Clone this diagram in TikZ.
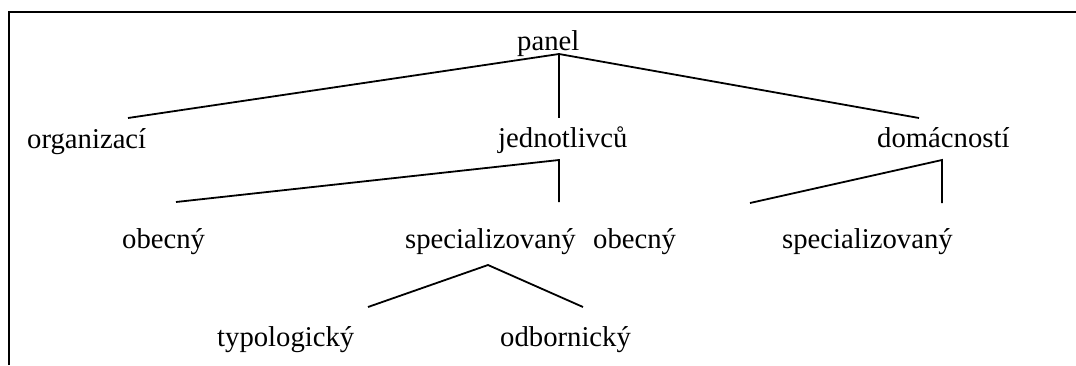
\documentclass[tikz,border=0pt]{standalone}
\usepackage{fontspec}
\setmainfont{Liberation Serif}
\begin{document}
\begin{tikzpicture}[x=1pt,y=-1pt,
  lbl/.style={anchor=base west,inner sep=0pt,font=\fontsize{28.7}{34}\selectfont},
  branch/.style={line width=1.8pt},
  frameline/.style={line width=2pt}]
\useasboundingbox (0,0) rectangle (1076,365);
% open frame: top and left edges only
\coordinate (fl) at (8.5,365);
\coordinate (fc) at (8.5,12);
\coordinate (fr) at (1076,12);
\draw[frameline] (fl) -- (fc) -- (fr);

% labels
\node[lbl] (panel) at (517,50) {panel};
\node[lbl] (org) at (27,148) {organizací};
\node[lbl] (jed) at (498,147) {jednotlivců};
\node[lbl] (dom) at (877,147) {domácností};
\node[lbl] (obA) at (122,248) {obecný};
\node[lbl] (spA) at (405,248) {specializovaný};
\node[lbl] (obB) at (593,248) {obecný};
\node[lbl] (spB) at (782,248) {specializovaný};
\node[lbl] (typ) at (217,346) {typologický};
\node[lbl] (odb) at (500,346) {odbornický};

% branch points
\coordinate (pHub) at (559,54);
\coordinate (orgTop) at (128,118);
\coordinate (jedTop) at (559,118);
\coordinate (domTop) at (919,118);
\coordinate (jHub) at (559,160);
\coordinate (obATop) at (176,202);
\coordinate (spATop) at (559,202);
\coordinate (dHub) at (942,160);
\coordinate (obBTop) at (750,203);
\coordinate (spBTop) at (942,203);
\coordinate (sHub) at (488,265);
\coordinate (typTop) at (368,307);
\coordinate (odbTop) at (583,307);

% branches
\draw[branch] (orgTop) -- (pHub) -- (domTop);
\draw[branch] (pHub) -- (jedTop);
\draw[branch] (obATop) -- (jHub) -- (spATop);
\draw[branch] (obBTop) -- (dHub) -- (spBTop);
\draw[branch] (typTop) -- (sHub) -- (odbTop);
\end{tikzpicture}
\end{document}
